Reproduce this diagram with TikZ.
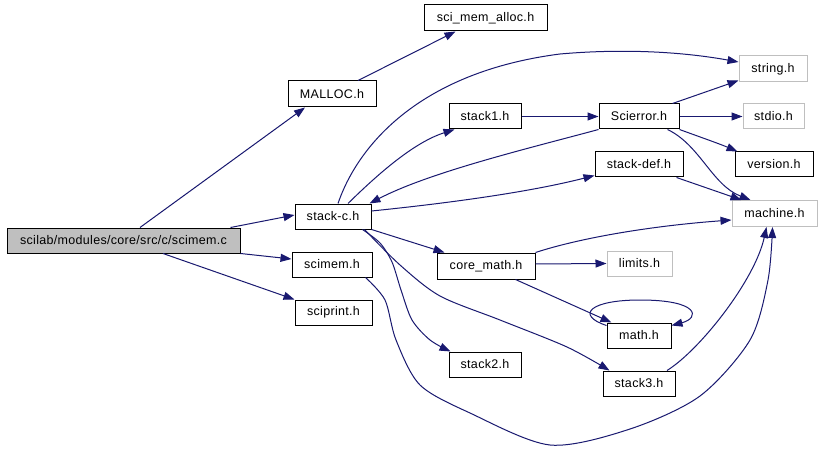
\documentclass[tikz,border=0pt]{standalone}
\usepackage{fontspec}
\setmainfont{Liberation Sans}[LetterSpace=2.5]
\usetikzlibrary{arrows.meta}
\definecolor{edgec}{HTML}{191970}
\definecolor{grayb}{HTML}{BFBFBF}
\begin{document}
\begin{tikzpicture}[x=1pt,y=-1pt,
  box/.style={draw=black, line width=1pt, rectangle, inner sep=0pt, minimum height=25pt, font=\fontsize{12.5}{14}\selectfont},
  gbox/.style={box, draw=grayb},
  edge/.style={draw=edgec, line width=1pt, -{Triangle[length=11pt,width=8pt]}},
]
\useasboundingbox (0,0) rectangle (821,473);
\fill[white] (0,0) rectangle (821,473);

\node[box, minimum width=233pt, fill=grayb] (scimemc) at (123.5,240.5) {scilab/modules/core/src/c/scimem.c};
\node[box, minimum width=88pt, minimum height=26pt] (malloc) at (332,94) {MALLOC.h};
\node[box, minimum width=123pt, minimum height=26pt] (scimalloc) at (485.5,18) {sci\_mem\_alloc.h};
\node[box, minimum width=76pt] (stackc) at (333,216.5) {stack-c.h};
\node[box, minimum width=80pt] (scimemh) at (332,264.5) {scimem.h};
\node[box, minimum width=77pt] (sciprint) at (333.5,312.5) {sciprint.h};
\node[box, minimum width=72pt] (stack1) at (485,116.5) {stack1.h};
\node[box, minimum width=80pt] (scierror) at (639,116.5) {Scierror.h};
\node[gbox, minimum width=61pt] (stdio) at (773.5,116.5) {stdio.h};
\node[gbox, minimum width=68pt, minimum height=26pt] (string) at (773,69) {string.h};
\node[box, minimum width=78pt] (version) at (774,164.5) {version.h};
\node[box, minimum width=88pt] (stackdef) at (639,164.5) {stack-def.h};
\node[gbox, minimum width=85pt, minimum height=26pt] (machine) at (774.5,213.5) {machine.h};
\node[box, minimum width=98pt, minimum height=26pt] (coremath) at (486,266) {core\_math.h};
\node[gbox, minimum width=65pt] (limits) at (639.5,263.5) {limits.h};
\node[box, minimum width=64pt] (math) at (639,335.5) {math.h};
\node[box, minimum width=72pt] (stack2) at (485,364.5) {stack2.h};
\node[box, minimum width=72pt] (stack3) at (639,383.5) {stack3.h};

% scimem.c
\draw[edge] ([xshift=16.5pt]scimemc.north) -- ([xshift=-27pt]malloc.south);
\draw[edge] ([xshift=26pt]malloc.north) -- ([xshift=-30pt]scimalloc.south);
\draw[edge] ([xshift=-10pt]scimemc.north east) -- ([yshift=1.5pt]stackc.west);
\draw[edge] (scimemc.south east) -- ([yshift=5.5pt]scimemh.west);
\draw[edge] ([xshift=39.5pt]scimemc.south) -- (sciprint.north west);

% stack-c.h
\draw[edge] ([xshift=5pt]stackc.north) .. controls (358,145) and (420,72) .. (560,54) .. controls (640,47) and (700,55) .. ([yshift=7pt]string.west);
\draw[edge] ([xshift=15pt]stackc.north) .. controls (380,172) and (415,142) .. ([xshift=6pt]stack1.south west);
\draw[edge] (scierror.south west) .. controls (530,148) and (430,172) .. ([xshift=-2pt]stackc.north east);
\draw[edge] ([yshift=5.5pt]stackc.east) .. controls (450,203) and (530,192) .. ([yshift=2pt]stackdef.south west);
\draw[edge] (stackc.south east) -- ([xshift=8pt]coremath.north west);
\draw[edge] plot[smooth] coordinates {([xshift=-9pt]stackc.south east) (380,243) (392,262) (401,290) (412,320) (430,340) ([xshift=2pt]stack2.north west)};
\draw[edge] plot[smooth] coordinates {([xshift=-7pt]stackc.south east) (400,265) (440,296) (500,320) (567,347) ([xshift=7pt]stack3.north west)};

% stack1, Scierror
\draw[edge] (stack1.east) -- (scierror.west);
\draw[edge] ([xshift=-7pt]scierror.north east) -- ([yshift=2pt]string.south west);
\draw[edge] (scierror.east) -- (stdio.west);
\draw[edge] (scierror.south east) .. controls (700,137) and (720,144) .. ([xshift=3pt]version.north west);
\draw[edge] ([xshift=-12pt]scierror.south east) .. controls (700,145) and (712,185) .. ([xshift=19pt]machine.north west);

% stack-def, core_math
\draw[edge] ([xshift=-7pt]stackdef.south east) -- ([xshift=10pt]machine.north west);
\draw[edge] (coremath.north east) .. controls (580,238) and (650,226) .. ([yshift=-6.5pt]machine.west);
\draw[edge] ([yshift=2pt]coremath.east) -- (limits.west);
\draw[edge] ([xshift=-20pt]coremath.south east) -- ([xshift=5pt]math.north west);

% math self loop
\draw[edge] ([yshift=-3pt]math.north west) .. controls (575,315) and (590,300) .. (640,300) .. controls (700,300) and (700,318) .. ([yshift=-3pt]math.north east);

% stack3, scimem.h to machine
\draw[edge] ([xshift=28pt]stack3.north) .. controls (700,350) and (755,280) .. ([xshift=-8pt]machine.south);
\draw[edge] plot[smooth] coordinates {([xshift=-7pt]scimemh.south east) (385,300) (396,340) (420,385) (470,413) (550,445) (630,429) (700,396) (750,340) (768,280) ([xshift=-2pt]machine.south)};
\end{tikzpicture}
\end{document}
